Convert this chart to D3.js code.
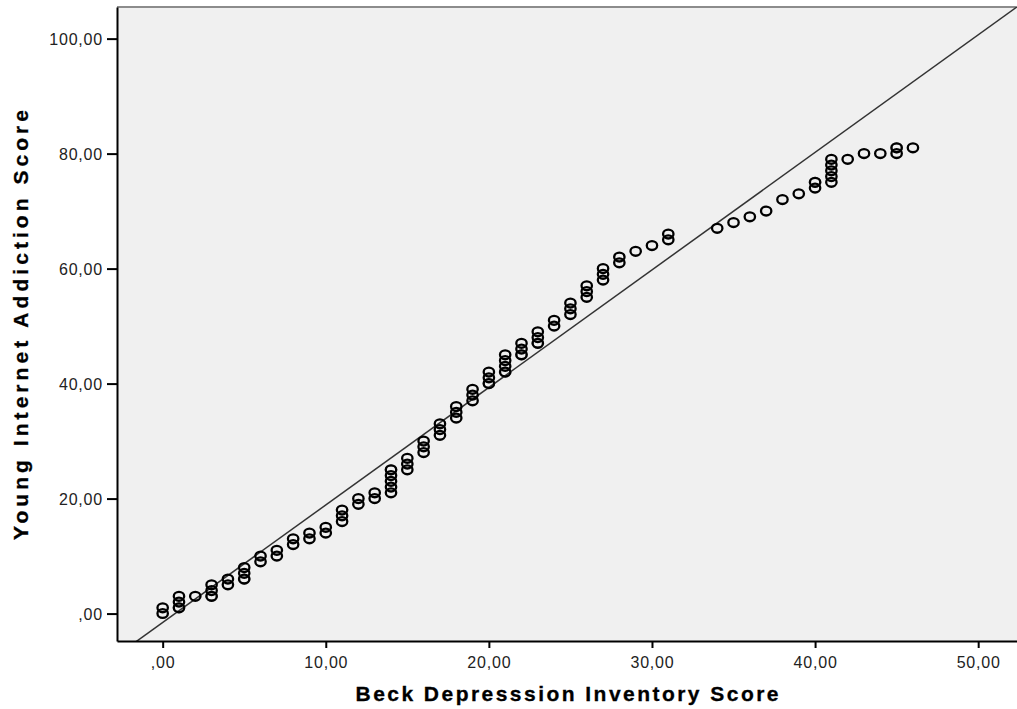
<html>
<head>
<script src="https://cdn.jsdelivr.net/npm/d3@7"></script>
<style>
  body { margin: 0; background: #fff; }
  text { font-family: "Liberation Sans", Arial, sans-serif; }
</style>
</head>
<body>
<script>
// BDI score (x) and Young IAT score (y) pairs
var bdi = [0,0, 1,1,1, 2, 3,3,3, 4,4, 5,5,5, 6,6, 7,7, 8,8, 9,9, 10,10,
           11,11,11, 12,12, 13,13, 14,14,14,14,14, 15,15,15, 16,16,16,
           17,17,17, 18,18,18, 19,19,19, 20,20,20, 21,21,21,21, 22,22,22,
           23,23,23, 24,24, 25,25,25, 26,26,26, 27,27,27, 28,28, 29, 30, 31,31,
           34, 35, 36, 37, 38, 39, 40,40, 41,41,41,41,41, 42, 43, 44, 45,45, 46];
var iat = [0,1, 1,2,3, 3, 3,4,5, 5,6, 6,7,8, 9,10, 10,11, 12,13, 13,14, 14,15,
           16,17,18, 19,20, 20,21, 21,22,23,24,25, 25,26,27, 28,29,30,
           31,32,33, 34,35,36, 37,38,39, 40,41,42, 42,43,44,45, 45,46,47,
           47,48,49, 50,51, 52,53,54, 55,56,57, 58,59,60, 61,62, 63, 64, 65,66,
           67, 68, 69, 70, 72, 73, 74,75, 75,76,77,78,79, 79, 80, 80, 80,81, 81];

// fainter (grey) circles
var bdiFaint = [1, 3, 5, 14, 20, 21, 22, 23, 40, 45];
var iatFaint = [1, 3, 6, 25, 40, 42, 45, 47, 75, 81];

var xTicks = [0, 10, 20, 30, 40, 50];
var yTicks = [0, 20, 40, 60, 80, 100];

// reference line
var lineIntercept = -1.55, lineSlope = 2.044;

var W = 1017, H = 709;
var pLeft = 117, pTop = 7, pRight = 1017, pBottom = 641;

var svg = d3.select("body").append("svg")
    .attr("width", W).attr("height", H);

var x = d3.scaleLinear().domain([-2.8, 52.38]).range([pLeft, pRight]);
var y = d3.scaleLinear().domain([-4.77, 105.5]).range([pBottom, pTop]);

/* plot background */
svg.append("rect")
    .attr("x", pLeft).attr("y", pTop)
    .attr("width", pRight - pLeft).attr("height", pBottom - pTop)
    .attr("fill", "#f0f0f0");

/* grey top frame */
svg.append("line")
    .attr("x1", pLeft).attr("x2", pRight).attr("y1", pTop).attr("y2", pTop)
    .attr("stroke", "#8c8c8c").attr("stroke-width", 2);

/* clip for line */
svg.append("clipPath").attr("id", "plot")
  .append("rect").attr("x", pLeft).attr("y", pTop)
    .attr("width", pRight - pLeft).attr("height", pBottom - pTop);

var xd = x.domain();
svg.append("line")
    .attr("clip-path", "url(#plot)")
    .attr("x1", x(xd[0])).attr("y1", y(lineIntercept + lineSlope * xd[0]))
    .attr("x2", x(xd[1])).attr("y2", y(lineIntercept + lineSlope * xd[1]))
    .attr("stroke", "#333").attr("stroke-width", 1.5);

/* points */
var fmt = function(d) { return d === 0 ? ",00" : d3.format(".2f")(d).replace(".", ","); };

svg.append("g").selectAll("ellipse")
    .data(d3.range(bdiFaint.length))
    .enter().append("ellipse")
    .attr("cx", function(i) { return x(bdiFaint[i]); })
    .attr("cy", function(i) { return y(iatFaint[i]); })
    .attr("rx", 5.2).attr("ry", 4.4)
    .attr("fill", "none").attr("stroke", "#8a8a8a").attr("stroke-width", 2.3);

svg.append("g").selectAll("ellipse")
    .data(d3.range(bdi.length))
    .enter().append("ellipse")
    .attr("cx", function(i) { return x(bdi[i]); })
    .attr("cy", function(i) { return y(iat[i]); })
    .attr("rx", 5.2).attr("ry", 4.4)
    .attr("fill", "none").attr("stroke", "#000").attr("stroke-width", 2.3);

/* axes */
var xAxis = d3.axisBottom(x).tickValues(xTicks).tickSize(7).tickSizeOuter(0).tickFormat(fmt);
var yAxis = d3.axisLeft(y).tickValues(yTicks).tickSize(10).tickSizeOuter(0).tickFormat(fmt);

var gx = svg.append("g").attr("transform", "translate(0," + pBottom + ")").call(xAxis);
var gy = svg.append("g").attr("transform", "translate(" + pLeft + ",0)").call(yAxis);

[gx, gy].forEach(function(g) {
    g.select(".domain").attr("stroke", "#000").attr("stroke-width", 2);
    g.selectAll(".tick line").attr("stroke", "#000").attr("stroke-width", 2);
    g.selectAll(".tick text").attr("font-size", 16).attr("fill", "#222")
        .attr("letter-spacing", "0.8px")
        .attr("font-family", "'Liberation Sans', Arial, sans-serif");
});
gx.selectAll(".tick text").attr("y", 27).attr("dy", 0);
gy.selectAll(".tick text").attr("x", -14).attr("dy", "0.35em");

/* axis titles */
svg.append("text")
    .attr("x", 567).attr("y", 701)
    .attr("text-anchor", "middle")
    .attr("font-size", 21).attr("font-weight", "bold")
    .attr("stroke", "#000").attr("stroke-width", 0.3)
    .attr("textLength", 423).attr("lengthAdjust", "spacing")
    .text("Beck Depresssion Inventory Score");

svg.append("text")
    .attr("transform", "translate(28,325) rotate(-90)")
    .attr("text-anchor", "middle")
    .attr("font-size", 21).attr("font-weight", "bold")
    .attr("stroke", "#000").attr("stroke-width", 0.3)
    .attr("textLength", 430).attr("lengthAdjust", "spacing")
    .text("Young Internet Addiction Score");
</script>
</body>
</html>
